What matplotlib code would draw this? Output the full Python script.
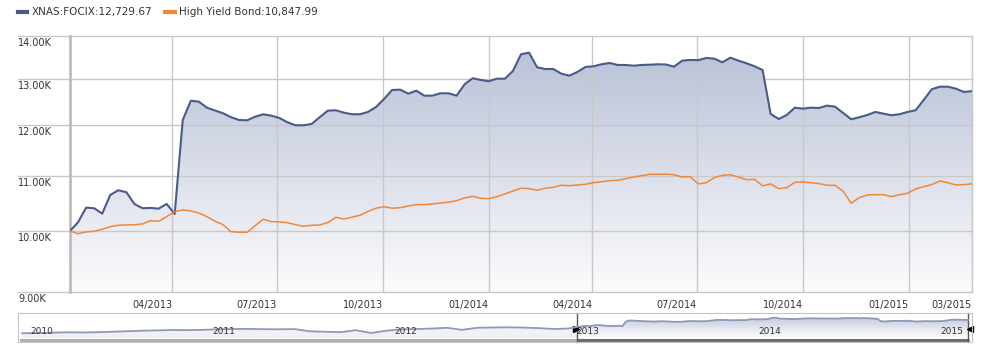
import numpy as np
import pandas as pd
import matplotlib
matplotlib.use("Agg")
import matplotlib.pyplot as plt
import matplotlib.dates as mdates
import matplotlib.transforms as mtransforms
from matplotlib.colors import LinearSegmentedColormap
from matplotlib.patches import Rectangle
from matplotlib.lines import Line2D
from matplotlib.ticker import NullLocator

# weekly growth of 10K, Jan 2013 - Feb 2015
dates = pd.date_range("2013-01-02", periods=113, freq="7D")

focix = [
    10000, 10151, 10410, 10400, 10303, 10641, 10728, 10691, 10477, 10400,
    10405, 10392, 10477, 10298, 12111, 12521, 12500, 12371, 12311, 12252,
    12168, 12111, 12105, 12180, 12231, 12201, 12153, 12063, 12001, 12001,
    12028, 12168, 12307, 12316, 12265, 12231, 12231, 12280, 12386, 12558,
    12755, 12761, 12674, 12739, 12630, 12630, 12682, 12682, 12630, 12881,
    13015, 12977, 12948, 13006, 13006, 13180, 13565, 13603, 13264, 13225,
    13225, 13119, 13073, 13157, 13271, 13287, 13333, 13363, 13317, 13317,
    13301, 13317, 13324, 13333, 13328, 13278, 13416, 13433, 13428, 13479,
    13463, 13379, 13486, 13416, 13356, 13287, 13202, 12237, 12132, 12216,
    12371, 12350, 12371, 12365, 12414, 12392, 12258, 12126, 12168, 12216,
    12280, 12244, 12210, 12231, 12280, 12316, 12536, 12770, 12827, 12827,
    12783, 12711, 12729.67]

high_yield = [
    10000, 9953, 9983, 9995, 10029, 10074, 10099, 10104, 10109, 10122,
    10179, 10169, 10250, 10339, 10369, 10351, 10315, 10250, 10169, 10109,
    9988, 9978, 9978, 10092, 10204, 10162, 10157, 10144, 10109, 10081,
    10099, 10104, 10144, 10239, 10209, 10239, 10275, 10342, 10400, 10428,
    10400, 10410, 10441, 10465, 10465, 10477, 10495, 10508, 10537, 10586,
    10617, 10580, 10573, 10610, 10659, 10714, 10765, 10758, 10728, 10765,
    10783, 10820, 10813, 10826, 10839, 10869, 10887, 10906, 10913, 10944,
    10976, 11000, 11027, 11027, 11032, 11019, 10976, 10981, 10845, 10869,
    10962, 11007, 11019, 10976, 10925, 10932, 10808, 10845, 10757, 10776,
    10876, 10882, 10869, 10853, 10820, 10820, 10709, 10490, 10591, 10641,
    10647, 10647, 10610, 10647, 10672, 10752, 10795, 10832, 10901, 10869,
    10826, 10832, 10847.99]

# longer history shown in the navigator strip (monthly, before 2013)
nav_early_dates = pd.date_range("2009-12-01", periods=37, freq="MS") + pd.Timedelta(days=15)
nav_early = [7560, 7670, 7790, 7940, 7870, 7980, 8180, 8370, 8560, 8720,
             8840, 8760, 8910, 9110, 9220, 9260, 9150, 9110, 9190, 8330,
             8140, 7980, 8760, 7670, 8560, 9070, 9220, 9380, 9690, 8910,
             9690, 9810, 9880, 9770, 9570, 9220, 9420]
nav_years = [2010, 2011, 2012, 2013, 2014, 2015]

y_ticks = [9000, 10000, 11000, 12000, 13000, 14000]
x_tick_dates = ["2013-04-01", "2013-07-01", "2013-10-01", "2014-01-01",
                "2014-04-01", "2014-07-01", "2014-10-01", "2015-01-01"]
x_tick_labels = ["04/2013", "07/2013", "10/2013", "01/2014", "04/2014",
                 "07/2014", "10/2014", "01/2015", "03/2015"]

BLUE = "#4a5a8a"
ORANGE = "#f0883a"
GRID = "#c8c8c8"
TXT = "#333333"

plt.rcParams["font.family"] = ["DejaVu Sans"]


def gradient_fill(ax, x, y, base, c_top, c_bot):
    poly = ax.fill_between(x, y, base, facecolor="none", edgecolor="none")
    cmap = LinearSegmentedColormap.from_list("g", [c_top, c_bot])
    img = ax.imshow(np.linspace(0, 1, 256).reshape(-1, 1), cmap=cmap, aspect="auto",
                    extent=[0, 1, 0, 1], origin="upper", transform=ax.transAxes,
                    zorder=1, interpolation="bilinear")
    img.set_clip_path(poly.get_paths()[0], ax.transData)


fig = plt.figure(figsize=(9.83, 3.62), dpi=100)

# ---- main chart ----
ax = fig.add_axes([70/983, 1-292/362, 902/983, 256/362])
ax.set_yscale("log")
ax.set_ylim(9000, 14000)
ax.set_xlim(dates[0], dates[-1])
ax.set_autoscale_on(False)

gradient_fill(ax, dates, focix, 9000, "#b5bed4", "#fcfcfd")
ax.plot(dates, focix, color=BLUE, lw=1.5, zorder=4, solid_joinstyle="round")
ax.plot(dates, high_yield, color=ORANGE, lw=1.1, zorder=4)

ax.yaxis.set_major_locator(NullLocator())
ax.yaxis.set_minor_locator(NullLocator())
ylab_trans = mtransforms.offset_copy(ax.get_yaxis_transform(), fig=fig, y=-2, units="dots")
for v in y_ticks:
    ax.plot([-52/902, 1], [v, v], color=GRID, lw=1, transform=ax.get_yaxis_transform(),
            clip_on=False, zorder=2)
    ax.text(-52/902, v, f"{v/1000:.2f}K", transform=ylab_trans, ha="left", va="top",
            fontsize=7, color=TXT)

ticks = list(pd.to_datetime(x_tick_dates)) + [dates[-1]]
ax.set_xticks(ticks)
ax.set_xticklabels(x_tick_labels, ha="right", fontsize=7, color=TXT)
ax.tick_params(axis="x", length=0, pad=6)
ax.grid(axis="x", color=GRID, lw=1, zorder=2)
ax.set_axisbelow(False)

for s in ["top", "bottom"]:
    ax.spines[s].set_visible(False)
ax.spines["right"].set_color(GRID)
ax.spines["right"].set_linewidth(1)
ax.spines["left"].set_color("#bdbdbd")
ax.spines["left"].set_linewidth(2)

# ---- legend ----
fig.add_artist(Line2D([18/983, 27/983], [1-12/362]*2, color=BLUE, lw=3,
                      transform=fig.transFigure))
fig.text(32/983, 1-12/362, f"XNAS:FOCIX:{focix[-1]:,.2f}", va="center", ha="left",
         fontsize=7.5, color=TXT)
fig.add_artist(Line2D([165/983, 175/983], [1-12/362]*2, color=ORANGE, lw=3,
                      transform=fig.transFigure))
fig.text(179/983, 1-12/362, f"High Yield Bond:{high_yield[-1]:,.2f}", va="center",
         ha="left", fontsize=7.5, color=TXT)

# ---- navigator ----
nav = fig.add_axes([18/983, 1-338/362, 954/983, 25/362])
nav_dates = nav_early_dates.append(dates)
nav_vals = nav_early + focix
nav.set_xlim(pd.Timestamp("2009-12-08"), pd.Timestamp("2015-03-05"))
nav.set_ylim(5730, 15430)
nav.set_autoscale_on(False)
nav.fill_between(nav_dates, nav_vals, 5730, color="#f0f1f6", lw=0)
gradient_fill(nav, dates, focix, 5730, "#b9c0d5", "#ffffff")
nav.plot(nav_dates, nav_vals, color="#8e98b8", lw=1.3, zorder=3)
nav.axis("off")

blend = mtransforms.blended_transform_factory(nav.transData, nav.transAxes)
x_lo, x_hi = nav.get_xlim()
nav.add_patch(Rectangle((x_lo + 4, -0.16), x_hi - x_lo - 8, 0.14, transform=blend,
                        color="#b0b0b0", lw=0, clip_on=False))
d0 = mdates.date2num(dates[0])
d1 = mdates.date2num(dates[-1])
nav.add_patch(Rectangle((d0, -0.16), d1 - d0, 0.14, transform=blend,
                        color="#6c6c6c", lw=0, clip_on=False))
for d in (d0, d1):
    nav.plot([d, d], [-0.16, 1], color="#555555", lw=1, transform=blend, clip_on=False)
nav.plot([d0 - 2], [0.36], marker=">", color="black", ms=4.5, transform=blend, clip_on=False)
nav.plot([d1 + 4], [0.36], marker="<", color="black", ms=4.5, transform=blend, clip_on=False)

for yr in nav_years:
    nav.text(pd.Timestamp(f"{yr}-01-01"), 0.24, str(yr), transform=blend, ha="left",
             va="center", fontsize=6.5, color=TXT)

fig.add_artist(Rectangle((18/983, 1-342/362), 954/983, 29/362, transform=fig.transFigure,
                         fill=False, edgecolor="#c4c4c4", lw=0.8))

fig.savefig("out.png", dpi=100)
